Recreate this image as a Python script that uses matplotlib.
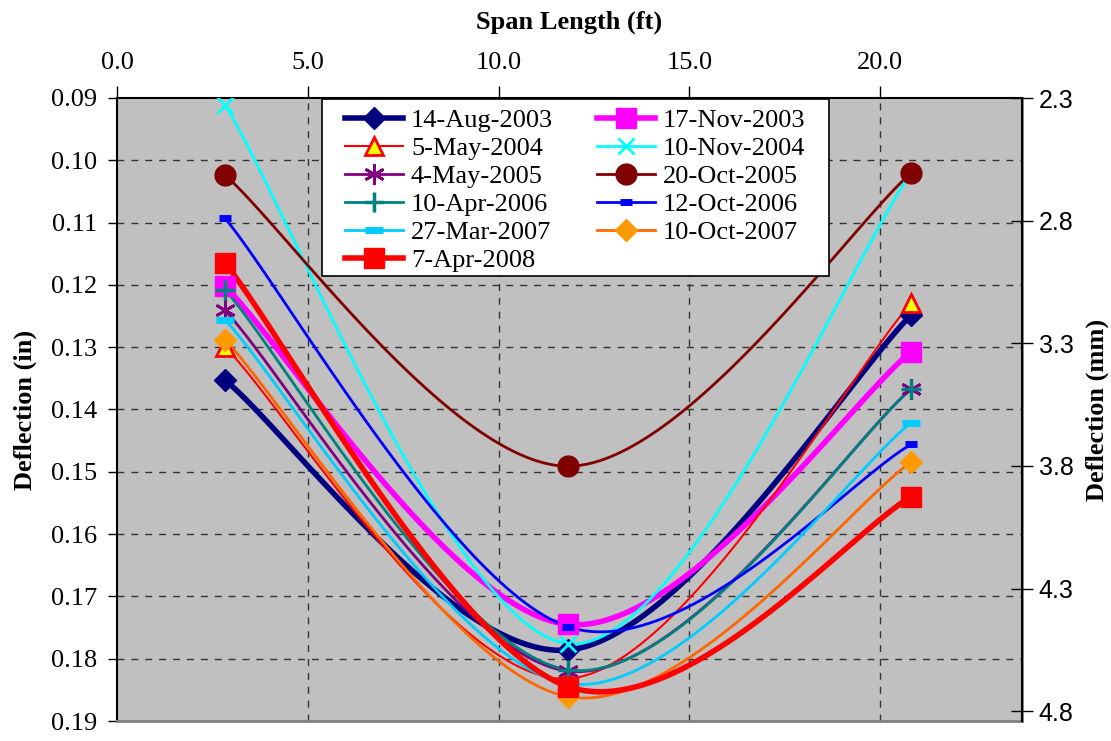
import numpy as np
import matplotlib
matplotlib.use("Agg")
import matplotlib.pyplot as plt
from matplotlib.patches import Rectangle
from matplotlib.ticker import FixedLocator, FormatStrFormatter

# ---------------- data ----------------
span_ft = [2.83, 11.83, 20.82]
dates = ["14-Aug-2003", "17-Nov-2003", "5-May-2004", "10-Nov-2004", "4-May-2005",
         "20-Oct-2005", "10-Apr-2006", "12-Oct-2006", "27-Mar-2007", "10-Oct-2007",
         "7-Apr-2008"]
d_14aug2003 = [0.1353, 0.1786, 0.1248]
d_17nov2003 = [0.1202, 0.1745, 0.1307]
d_5may2004 = [0.1300, 0.1832, 0.1229]
d_10nov2004 = [0.0911, 0.1776, 0.1020]
d_4may2005 = [0.1241, 0.1820, 0.1367]
d_20oct2005 = [0.1024, 0.1491, 0.1020]
d_10apr2006 = [0.1208, 0.1818, 0.1367]
d_12oct2006 = [0.1093, 0.1749, 0.1456]
d_27mar2007 = [0.1256, 0.1840, 0.1421]
d_10oct2007 = [0.1288, 0.1861, 0.1484]
d_7apr2008 = [0.1165, 0.1845, 0.1540]
series = [d_14aug2003, d_17nov2003, d_5may2004, d_10nov2004, d_4may2005,
          d_20oct2005, d_10apr2006, d_12oct2006, d_27mar2007, d_10oct2007,
          d_7apr2008]
x_ticks = [0.0, 5.0, 10.0, 15.0, 20.0]
y_ticks = [0.09, 0.10, 0.11, 0.12, 0.13, 0.14, 0.15, 0.16, 0.17, 0.18, 0.19]
mm_ticks = [2.286, 2.786, 3.286, 3.786, 4.286, 4.786]

# ---------------- styles ----------------
styles = [
    dict(color="#000080", lw=4.0, marker="D", ms=11, mfc="#000080", mec="#000080", mew=1),
    dict(color="#FF00FF", lw=4.0, marker="s", ms=14, mfc="#FF00FF", mec="#FF00FF", mew=1),
    dict(color="#FF0000", lw=1.5, marker="^", ms=13, mfc="#FFFF00", mec="#FF0000", mew=2),
    dict(color="#00FFFF", lw=2.0, marker="x", ms=12, mfc="#00FFFF", mec="#00FFFF", mew=2),
    dict(color="#800080", lw=2.0, marker=(6, 2, 0), ms=15, mfc="#800080", mec="#800080", mew=2),
    dict(color="#800000", lw=2.0, marker="o", ms=15, mfc="#800000", mec="#800000", mew=1),
    dict(color="#008080", lw=2.0, marker="+", ms=15, mfc="#008080", mec="#008080", mew=2.5),
    dict(color="#0000FF", lw=2.0, marker="_", ms=8, mfc="#0000FF", mec="#0000FF", mew=5),
    dict(color="#00CCFF", lw=2.0, marker="_", ms=13, mfc="#00CCFF", mec="#00CCFF", mew=5),
    dict(color="#FF6600", lw=2.0, marker="D", ms=11, mfc="#FF9900", mec="#FF9900", mew=1),
    dict(color="#FF0000", lw=4.0, marker="s", ms=14, mfc="#FF0000", mec="#FF0000", mew=1),
]


def excel_smooth(xs, ys, n=60):
    """Excel-style smoothed line (cubic Bezier, Catmull-Rom tangents /6)."""
    P = np.column_stack([xs, ys]).astype(float)
    m = len(P)
    out = []
    for i in range(m - 1):
        p0 = P[i - 1] if i > 0 else P[i]
        p1 = P[i]
        p2 = P[i + 1]
        p3 = P[i + 2] if i + 2 < m else P[i + 1]
        c1 = p1 + (p2 - p0) / 6.0
        c2 = p2 - (p3 - p1) / 6.0
        t = np.linspace(0, 1, n)[:, None]
        seg = ((1 - t) ** 3) * p1 + 3 * ((1 - t) ** 2) * t * c1 + 3 * (1 - t) * t ** 2 * c2 + t ** 3 * p2
        out.append(seg if i == 0 else seg[1:])
    c = np.vstack(out)
    return c[:, 0], c[:, 1]


serif = "Liberation Serif"
sans = "Liberation Sans"

W, H = 1111, 741
L, R, T, B = 117, 1022, 98, 721

fig = plt.figure(figsize=(W / 100, H / 100), dpi=100)
ax = fig.add_axes([L / W, 1 - B / H, (R - L) / W, (B - T) / H])
ax.set_facecolor("#C0C0C0")

handles = []
for lab, vals, st in zip(dates, series, styles):
    sx, sy = excel_smooth(span_ft, vals)
    ax.plot(sx, sy, color=st["color"], lw=st["lw"], solid_capstyle="round", zorder=3)
    ax.plot(span_ft, vals, ls="none", marker=st["marker"], ms=st["ms"],
            mfc=st["mfc"], mec=st["mec"], mew=st["mew"], zorder=4)
    h, = ax.plot([], [], color=st["color"], lw=st["lw"], marker=st["marker"], ms=st["ms"],
                 mfc=st["mfc"], mec=st["mec"], mew=st["mew"], label=lab)
    handles.append(h)

ax.set_xlim(0, 23.72)
ax.set_ylim(0.19, 0.09)

ax.xaxis.set_ticks_position("top")
ax.xaxis.set_label_position("top")
ax.set_xticks(x_ticks)
ax.set_xticklabels([f"{v:.1f}" for v in x_ticks], fontfamily=serif, fontsize=19)
ax.set_yticks(y_ticks)
ax.set_yticklabels([f"{v:.2f}" for v in y_ticks], fontfamily=serif, fontsize=19)
ax.tick_params(axis="x", direction="out", length=8.5, width=1, pad=9, colors="black")
ax.tick_params(axis="y", direction="out", length=6.5, width=1, pad=7.5, colors="black")

ax.set_xlabel("Span Length (ft)", fontfamily=serif, fontsize=19, fontweight="bold", labelpad=17)
ax.set_ylabel("Deflection (in)", fontfamily=serif, fontsize=19, fontweight="bold", labelpad=10)

# grid
for v in x_ticks[1:]:
    ax.axvline(v, color="#333333", lw=1, ls=(0, (5, 5)), zorder=1)
for v in y_ticks[1:-1]:
    ax.axhline(v, color="#333333", lw=1, ls=(0, (5, 5)), zorder=1)

for s in ["left", "top"]:
    ax.spines[s].set_color("black")
    ax.spines[s].set_linewidth(1.5)
ax.spines["bottom"].set_color("#808080")
ax.spines["bottom"].set_linewidth(2)
ax.spines["right"].set_color("#808080")
ax.spines["right"].set_linewidth(2)

# right axis in mm
ax2 = ax.twinx()
ax2.set_ylim(0.19 * 25.4, 0.09 * 25.4)
ax2.yaxis.set_major_locator(FixedLocator(mm_ticks))
ax2.yaxis.set_major_formatter(FormatStrFormatter("%.1f"))
for t in ax2.get_yticklabels():
    t.set_fontfamily(sans)
    t.set_fontsize(18)
ax2.tick_params(axis="y", direction="inout", length=16, width=1, pad=4, colors="black")
ax2.set_ylabel("Deflection (mm)", fontfamily=serif, fontsize=19, fontweight="bold", labelpad=9)
for s in ax2.spines.values():
    s.set_visible(False)
ax2.spines["right"].set_visible(True)
ax2.spines["right"].set_color("black")
ax2.spines["right"].set_linewidth(1.5)

# legend frame drawn as a rectangle, entries filled row-wise like the reference
lx0, ly0, lx1, ly1 = 322, 99, 829, 276
ax.add_patch(Rectangle(((lx0 - L) / (R - L), 1 - (ly1 - T) / (B - T)),
                       (lx1 - lx0) / (R - L), (ly1 - ly0) / (B - T),
                       transform=ax.transAxes, facecolor="white", edgecolor="black",
                       lw=1.2, zorder=9))
order = [0, 2, 4, 6, 8, 10, 1, 3, 5, 7, 9]
leg = ax.legend(handles=[handles[i] for i in order], loc="upper left",
                bbox_to_anchor=((345 - L) / (R - L), 1 - (109 - T) / (B - T)), ncol=2,
                prop={"family": serif, "size": 19}, frameon=False,
                handlelength=2.2, handletextpad=0.3,
                labelspacing=0.17, columnspacing=1.65, borderpad=0, borderaxespad=0)
leg.set_zorder(10)

fig.savefig("out.png", dpi=100)
